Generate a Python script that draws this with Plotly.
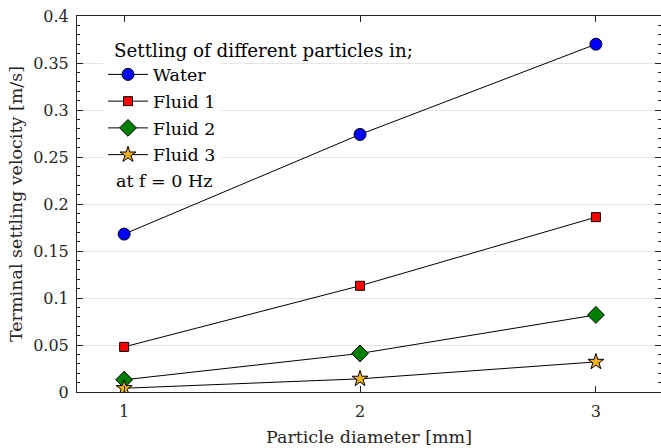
import plotly.graph_objects as go

diameters = [1, 2, 3]
water = [0.168, 0.274, 0.370]
fluid1 = [0.048, 0.113, 0.186]
fluid2 = [0.013, 0.041, 0.082]
fluid3 = [0.004, 0.014, 0.032]

series_names = ["Water", "Fluid 1", "Fluid 2", "Fluid 3"]
series_vals = [water, fluid1, fluid2, fluid3]
symbols = ["circle", "square", "diamond", "star"]
colors = ["#0000FF", "#FF0000", "#007F00", "#EDB120"]
sizes = [12, 9, 13, 12]

x_ticks = [1, 2, 3]
y_ticks = [0, 0.05, 0.1, 0.15, 0.2, 0.25, 0.3, 0.35, 0.4]
y_ticklabels = ["0", "0.05", "0.1", "0.15", "0.2", "0.25", "0.3", "0.35", "0.4"]

FONT = "DejaVu Serif"
FS = 17.5
TFS = 16
AX = "#262626"

fig = go.Figure()
for name, vals, sym, col, sz in zip(series_names, series_vals, symbols, colors, sizes):
    fig.add_trace(go.Scatter(
        x=diameters, y=vals, name=name, mode="lines+markers", legendgroup=name,
        line=dict(color="black", width=1),
        marker=dict(symbol=sym, color=col, size=sz, line=dict(color="black", width=1)),
    ))

W, H = 661, 448
L, R, T, B = 77, 0, 16, 56
pw = W - L - R
ph = H - T - B

def px_x(p):
    return (p - L) / pw

def px_y(p):
    return 1 - (p - T) / ph

fig.update_layout(
    width=W, height=H,
    margin=dict(l=L, r=R, t=T, b=B, pad=0),
    paper_bgcolor="white", plot_bgcolor="white",
    font=dict(family=FONT, size=FS, color=AX),
    showlegend=True,
    legend=dict(
        x=px_x(103), y=px_y(56.5), xanchor="left", yanchor="top",
        bgcolor="white", borderwidth=0,
        font=dict(family=FONT, size=FS, color="black"),
        itemwidth=40, tracegroupgap=1, traceorder="grouped",
    ),
    xaxis=dict(
        range=[0.80, 3.276], tickmode="array", tickvals=x_ticks,
        ticktext=[str(v) for v in x_ticks],
        ticks="inside", ticklen=6, tickcolor=AX, tickwidth=1,
        showline=True, linecolor=AX, linewidth=1, mirror="ticks",
        showgrid=False, zeroline=False, ticklabelstandoff=5,
        title=dict(text="Particle diameter [mm]", font=dict(family=FONT, size=FS, color=AX), standoff=10),
        tickfont=dict(family=FONT, size=TFS, color=AX),
    ),
    yaxis=dict(
        range=[0, 0.4], tickmode="array", tickvals=y_ticks, ticktext=y_ticklabels,
        ticks="inside", ticklen=6, tickcolor=AX, tickwidth=1,
        showline=True, linecolor=AX, linewidth=1, mirror="ticks",
        showgrid=True, gridcolor="#E5E5E5", gridwidth=1, zeroline=False, ticklabelstandoff=4,
        minor=dict(ticks="inside", ticklen=3, dtick=0.01, tick0=0, tickcolor=AX, showgrid=False),
        title=dict(text="Terminal settling velocity [m/s]", font=dict(family=FONT, size=FS, color=AX), standoff=6),
        tickfont=dict(family=FONT, size=TFS, color=AX),
    ),
    annotations=[
        dict(text="Settling of different particles in;", xref="paper", yref="paper",
             x=px_x(112), y=px_y(50), xanchor="left", yanchor="middle", showarrow=False,
             font=dict(family=FONT, size=18.3, color="black")),
        dict(text="at f = 0 Hz", xref="paper", yref="paper",
             x=px_x(114), y=px_y(181), xanchor="left", yanchor="middle", showarrow=False,
             font=dict(family=FONT, size=FS, color="black")),
    ],
)

fig.write_html("out.html")
